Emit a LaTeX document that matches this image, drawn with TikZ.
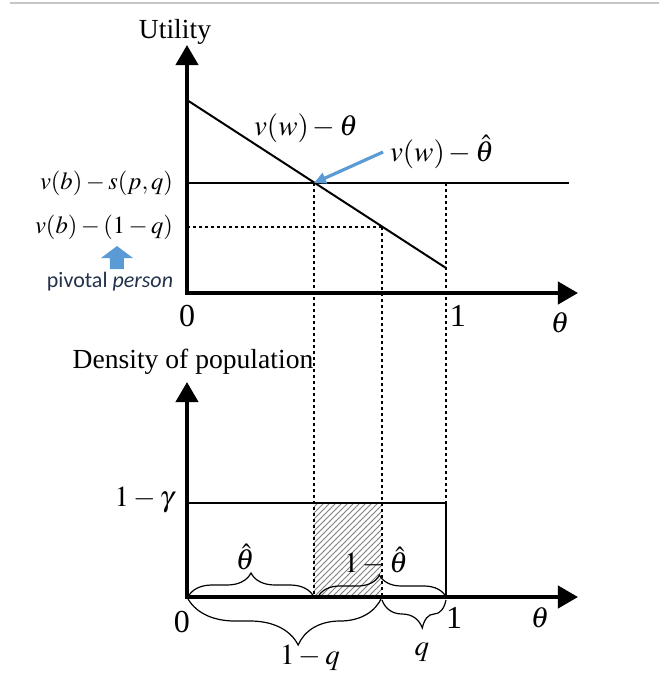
\documentclass[tikz,border=0pt]{standalone}
\usepackage{mathptmx}
\usepackage{fontspec}
\setmainfont{Liberation Serif}
\newfontfamily\calibri{Carlito}
\usetikzlibrary{arrows.meta,patterns,decorations.pathreplacing}
\definecolor{arrowblue}{RGB}{91,155,213}
\definecolor{pivotnavy}{RGB}{35,50,75}
\begin{document}
\begin{tikzpicture}
[x=0.5pt, y=-0.5pt, font=\fontsize{13.8}{16}\selectfont]
\tikzstyle{axis}=[line width=2pt, miter limit=20, {Triangle[length=10pt,width=11pt]}-{Triangle[length=10pt,width=11pt]}]
\tikzstyle{curve}=[line width=1pt]
\tikzstyle{guide}=[line width=1.2pt, dash pattern=on 1.5pt off 1.5pt]
\tikzstyle{curly}=[line width=0.6pt, decorate]
\tikzstyle{smallmath}=[font=\fontsize{12.3}{15}\selectfont]
\tikzstyle{bigmath}=[font=\fontsize{14.5}{17}\selectfont]
\tikzstyle{digit}=[font=\fontsize{16}{18}\selectfont]
\useasboundingbox (0,0) rectangle (659,677);
\draw[gray!45, line width=0.7pt] (10,3) -- (659,3);

% upper panel: utility
\coordinate (O1) at (187,293);
\coordinate (Y1) at (187,45);
\coordinate (X1) at (578,293);
\coordinate (A)  at (187,100);
\coordinate (B)  at (446,268);
\coordinate (L1) at (187,183);
\coordinate (H)  at (569,183);
\coordinate (L2) at (187,227);
\coordinate (P)  at (314,183);
\coordinate (Q)  at (382,227);
\coordinate (S)  at (446,183);

\node (util) at (175,32) {Utility};
\node[smallmath, anchor=east] (vbs) at (180,183) {$v(b)-s(p,q)$};
\node[smallmath, anchor=east] (vbq) at (180,227) {$v(b)-(1-q)$};
\node[bigmath] (vwt) at (306,128) {$v(w)-\theta$};
\node[bigmath] (vwh) at (442,152) {$v(w)-\hat{\theta}$};
\node[font=\calibri\fontsize{11}{13}\selectfont, text=pivotnavy] (pivot) at (110,282) {pivotal \textit{person}};
\node[digit] (zero1) at (187,316) {0};
\node[digit] (one1)  at (458,316) {1};
\node[bigmath] (th1)   at (560,323) {$\theta$};

\fill[arrowblue] (117,246) -- (133,258) -- (124,258) -- (124,269) -- (110,269) -- (110,258) -- (101,258) -- cycle;

% lower panel: density
\coordinate (O2) at (187,597);
\coordinate (Y2) at (187,382);
\coordinate (X2) at (578,597);
\coordinate (G)  at (187,503);
\coordinate (R)  at (446,503);
\coordinate (R0) at (446,597);
\coordinate (P2) at (314,597);
\coordinate (Q2) at (382,597);

\fill[pattern=north east lines, pattern color=gray] (314,503) rectangle (Q2);

\node (dens) at (193,362) {Density of population};
\node[bigmath, anchor=east] (gam) at (181,500) {$1-\gamma$};
\node[bigmath] (thh)  at (245,557) {$\hat{\theta}$};
\node[bigmath] (omth) at (376,561) {$1-\hat{\theta}$};
\node[bigmath] (omq)  at (310,658) {$1-q$};
\node[bigmath] (qq)   at (422,652) {$q$};
\node[digit] (zero2) at (182,622) {0};
\node[digit] (one2)  at (454,618) {1};
\node[bigmath] (th2)   at (540,618) {$\theta$};

% lines
\draw[axis] (Y1) -- (O1) -- (X1);
\draw[axis] (Y2) -- (O2) -- (X2);
\draw[curve] (A) -- (B);
\draw[curve] (L1) -- (H);
\draw[guide] (L2) -- (Q);
\draw[guide] (P) -- (P2);
\draw[guide] (Q) -- (Q2);
\draw[guide] (S) -- (R);
\draw[curve] (G) -- (R) -- (R0);
\draw[arrowblue, line width=1.6pt, -{Triangle[length=6pt,width=5.5pt]}] (vwh.west) -- (P);

% braces
\draw[curly, decoration={brace, amplitude=12pt}] (188,597) -- (P2);
\draw[curly, decoration={brace, amplitude=11pt, aspect=0.48}] (318,597) -- (R0);
\draw[curly, decoration={brace, amplitude=24pt, aspect=0.43}] (Q2) -- (O2);
\draw[curly, decoration={brace, amplitude=14pt, aspect=0.37, raise=1.5pt}] (R0) -- (Q2);
\end{tikzpicture}
\end{document}
